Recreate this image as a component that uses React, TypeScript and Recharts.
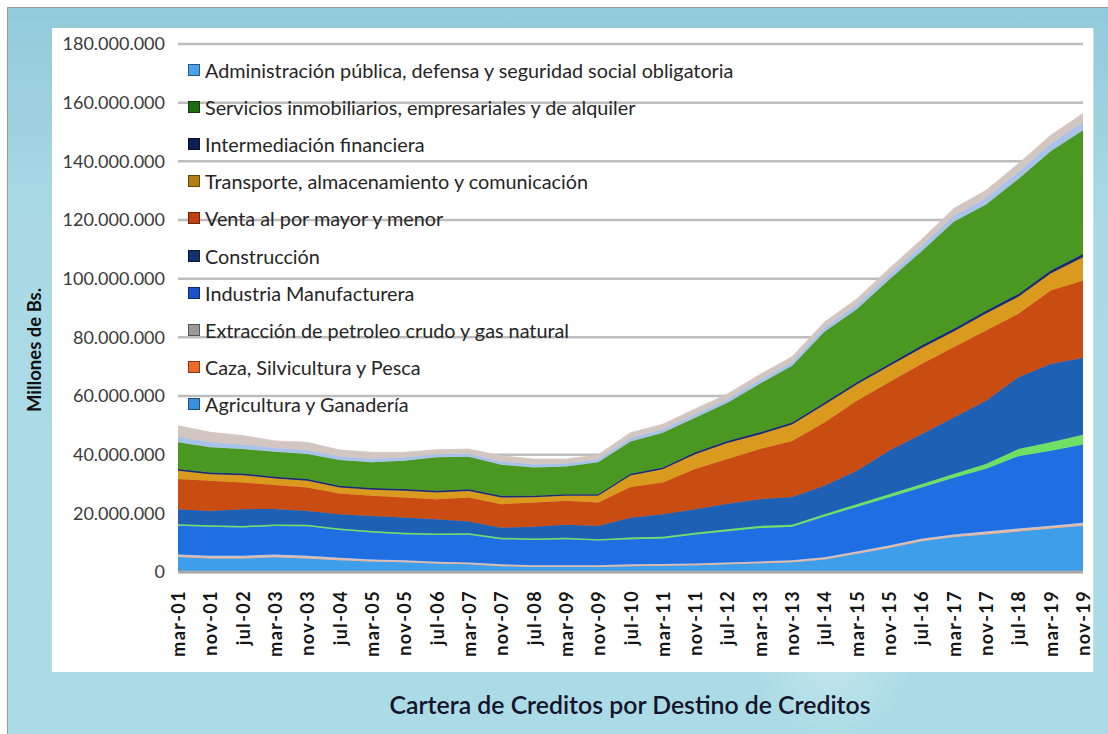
import React from "react";
import { AreaChart, Area, XAxis, YAxis, CartesianGrid, Legend } from "recharts";

const meses = [
  "mar-01", "nov-01", "jul-02", "mar-03", "nov-03", "jul-04", "mar-05", "nov-05", "jul-06", "mar-07",
  "nov-07", "jul-08", "mar-09", "nov-09", "jul-10", "mar-11", "nov-11", "jul-12", "mar-13", "nov-13",
  "jul-14", "mar-15", "nov-15", "jul-16", "mar-17", "nov-17", "jul-18", "mar-19", "nov-19",
];

// millones (el eje muestra el valor x 1.000.000)
const agricultura = [5.1, 4.6, 4.6, 5.0, 4.6, 4.0, 3.6, 3.3, 2.9, 2.6, 2.0, 1.7, 1.7, 1.7, 2.0, 2.1, 2.3, 2.6, 3.0, 3.3, 4.3, 6.2, 8.2, 10.5, 11.9, 12.8, 13.8, 14.8, 15.8];
const caza = [0.4, 0.4, 0.4, 0.4, 0.4, 0.4, 0.3, 0.3, 0.3, 0.3, 0.3, 0.3, 0.3, 0.3, 0.3, 0.3, 0.3, 0.3, 0.3, 0.3, 0.3, 0.4, 0.4, 0.4, 0.4, 0.5, 0.5, 0.5, 0.5];
const extraccion = [0.5, 0.5, 0.5, 0.6, 0.5, 0.5, 0.4, 0.4, 0.3, 0.3, 0.3, 0.3, 0.3, 0.3, 0.3, 0.3, 0.3, 0.3, 0.3, 0.4, 0.4, 0.4, 0.4, 0.4, 0.5, 0.5, 0.5, 0.5, 0.5];
const industria = [9.8, 9.9, 9.7, 9.7, 10.1, 9.4, 9.2, 8.9, 9.1, 9.5, 8.6, 8.6, 8.9, 8.4, 8.6, 8.7, 9.9, 10.7, 11.4, 11.4, 13.9, 15.2, 16.5, 17.5, 19.3, 21.4, 24.7, 25.5, 26.7];
const electricidad = [0.5, 0.5, 0.5, 0.5, 0.5, 0.5, 0.5, 0.5, 0.5, 0.5, 0.5, 0.5, 0.5, 0.5, 0.6, 0.6, 0.6, 0.7, 0.7, 0.7, 0.8, 0.9, 1.0, 1.1, 1.3, 1.6, 2.4, 2.9, 3.3];
const construccion = [5.1, 4.9, 5.7, 5.3, 4.7, 4.9, 5.1, 5.2, 4.9, 4.0, 3.4, 4.0, 4.4, 4.5, 6.7, 7.7, 8.0, 8.7, 9.1, 9.5, 9.7, 11.4, 14.8, 17.1, 19.3, 21.6, 24.5, 26.7, 26.2];
const venta = [10.3, 10.3, 9.1, 8.2, 8.0, 7.1, 6.9, 6.8, 6.8, 8.2, 8.0, 8.3, 8.2, 8.0, 10.5, 10.8, 13.7, 15.2, 17.1, 19.1, 21.6, 23.9, 23.4, 23.9, 23.9, 23.9, 21.6, 25.1, 26.4];
const transporte = [2.8, 2.2, 2.5, 2.2, 2.3, 2.0, 2.0, 2.3, 2.3, 2.2, 2.3, 1.8, 1.7, 2.3, 3.9, 4.5, 5.0, 5.5, 5.0, 5.6, 6.0, 5.5, 5.4, 5.4, 5.4, 5.8, 5.8, 5.8, 7.9];
const intermediacion = [0.6, 0.6, 0.6, 0.6, 0.6, 0.6, 0.6, 0.6, 0.6, 0.6, 0.6, 0.5, 0.5, 0.5, 0.6, 0.6, 0.7, 0.7, 0.7, 0.7, 0.8, 0.8, 0.8, 0.9, 0.9, 1.0, 1.0, 1.0, 1.1];
const servicios = [9.1, 8.6, 8.3, 8.5, 8.5, 8.8, 8.8, 9.6, 11.4, 11.1, 10.6, 9.6, 9.5, 10.9, 11.0, 11.9, 11.8, 13.0, 16.6, 19.3, 24.1, 24.9, 28.7, 32.1, 36.5, 36.2, 39.2, 40.6, 42.2];
const administracion = [2.0, 1.8, 1.6, 1.3, 1.4, 1.2, 1.2, 1.1, 1.0, 1.0, 1.1, 1.1, 1.0, 1.0, 1.2, 1.2, 1.2, 1.2, 1.3, 1.3, 1.4, 1.5, 1.7, 1.8, 2.0, 2.2, 2.4, 2.6, 2.7];
const otros = [3.7, 3.3, 3.0, 2.4, 2.6, 2.2, 2.2, 1.8, 1.6, 1.6, 1.9, 1.8, 1.5, 1.6, 1.8, 1.7, 1.8, 1.8, 1.8, 1.8, 1.9, 2.0, 2.1, 2.2, 2.5, 2.6, 2.8, 2.9, 3.0];

const yTicks = [0, 20, 40, 60, 80, 100, 120, 140, 160, 180];

// de abajo hacia arriba
const series = [
  { key: "agricultura", name: "Agricultura y Ganadería", fill: "#3f9ee9", icon: "#3a8fe0", values: agricultura },
  { key: "caza", name: "Caza, Silvicultura y Pesca", fill: "#efb08e", icon: "#ee6a2a", values: caza },
  { key: "extraccion", name: "Extracción de petroleo crudo y gas natural", fill: "#c6c3cc", icon: "#9a9a9a", values: extraccion },
  { key: "industria", name: "Industria Manufacturera", fill: "#1f6fe2", icon: "#1c52c8", values: industria },
  { key: "electricidad", name: "", fill: "#6ee063", icon: "", values: electricidad },
  { key: "construccion", name: "Construcción", fill: "#1d60b4", icon: "#12306a", values: construccion },
  { key: "venta", name: "Venta al por mayor y menor", fill: "#c94c13", icon: "#c0400e", values: venta },
  { key: "transporte", name: "Transporte, almacenamiento y comunicación", fill: "#d99a1e", icon: "#b47f12", values: transporte },
  { key: "intermediacion", name: "Intermediación financiera", fill: "#1b2a72", icon: "#0e1f55", values: intermediacion },
  { key: "servicios", name: "Servicios inmobiliarios, empresariales y de alquiler", fill: "#4a9822", icon: "#1f6a12", values: servicios },
  { key: "administracion", name: "Administración pública, defensa y seguridad social obligatoria", fill: "#a9c2ea", icon: "#4aa2ea", values: administracion },
  { key: "otros", name: "", fill: "#d3c6c0", icon: "", values: otros },
];

const data = meses.map((mes, i) => {
  const row: Record<string, string | number> = { mes };
  series.forEach((s) => (row[s.key] = s.values[i]));
  return row;
});

const legendItems = series.filter((s) => s.name).reverse();

const fmt = (v: number) => String(Math.round(v * 1000000)).replace(/\B(?=(\d{3})+(?!\d))/g, ".");

const MonthTick = ({ x, y, payload }: any) => (
  <g transform={`translate(${x},${y})`}>
    <text
      transform="rotate(-90)"
      x={-10}
      textAnchor="end"
      dominantBaseline="central"
      fontFamily="Lato"
      fontWeight={700}
      fontSize={18}
      letterSpacing={1.4}
      fill="#151515"
    >
      {payload.value}
    </text>
  </g>
);

const renderLegend = () => (
  <div style={{ fontFamily: "Lato", fontSize: 19.8, color: "#262626" }}>
    {legendItems.map((s) => (
      <div key={s.key} style={{ height: 37.2, display: "flex", alignItems: "center", whiteSpace: "nowrap" }}>
        <span
          style={{
            display: "inline-block",
            width: 10,
            height: 10,
            background: s.icon,
            border: "1px solid rgba(0,0,0,0.45)",
            marginRight: 5,
          }}
        />
        {s.name}
      </div>
    ))}
  </div>
);

export default function App() {
  return (
    <div style={{ position: "fixed", left: 0, top: 0, width: 1108, height: 734, background: "#fff", overflow: "hidden" }}>
      <div
        style={{
          position: "absolute",
          left: 7,
          top: 7,
          right: 0,
          bottom: 0,
          borderLeft: "1px solid #9a9a9a",
          borderTop: "1px solid #9a9a9a",
          background:
            "radial-gradient(circle at 20% 80%, rgba(255,255,255,0.35) 0, rgba(255,255,255,0) 60px), radial-gradient(circle at 75% 90%, rgba(255,255,255,0.3) 0, rgba(255,255,255,0) 80px), linear-gradient(180deg, #93cad9 0%, #a9dae6 30%, #aadbe6 100%)",
        }}
      />
      <div
        style={{
          position: "absolute",
          left: 52,
          top: 28,
          width: 1041,
          height: 644,
          background: "#fff",
          borderRight: "1px solid #cfdfe4",
        }}
      />
      <div
        style={{
          position: "absolute",
          left: 34,
          top: 350,
          transform: "translate(-50%,-50%) rotate(-90deg)",
          fontFamily: "Lato",
          fontWeight: 700,
          fontSize: 18.5,
          color: "#111",
          whiteSpace: "nowrap",
        }}
      >
        Millones de Bs.
      </div>
      <div
        style={{
          position: "absolute",
          left: 630,
          top: 704,
          transform: "translate(-50%,-50%)",
          fontFamily: "Lato",
          fontWeight: 600,
          fontSize: 24.8,
          color: "#14142a",
          whiteSpace: "nowrap",
        }}
      >
        Cartera de Creditos por Destino de Creditos
      </div>
      <div style={{ position: "absolute", left: 0, top: 0 }}>
        <AreaChart width={1108} height={734} data={data} margin={{ top: 44, right: 25, bottom: 72, left: 58 }}>
          <CartesianGrid horizontal vertical={false} stroke="#bdbdbd" strokeWidth={2.5} />
          <XAxis
            dataKey="mes"
            interval={0}
            height={90}
            tick={<MonthTick />}
            tickLine={false}
            axisLine={{ stroke: "#a8a8a8", strokeWidth: 3 }}
          />
          <YAxis
            width={120}
            domain={[0, 180]}
            ticks={yTicks}
            tickFormatter={fmt}
            tickLine={false}
            axisLine={false}
            tickMargin={7}
            tick={{ fontFamily: "Lato", fontSize: 18, fill: "#3a3a3a" }}
          />
          {series.map((s) => (
            <Area
              key={s.key}
              type="linear"
              dataKey={s.key}
              name={s.name}
              stackId="1"
              fill={s.fill}
              fillOpacity={1}
              stroke={s.fill}
              strokeWidth={0.8}
              isAnimationActive={false}
              legendType={s.name ? "square" : "none"}
            />
          ))}
          <Legend
            layout="vertical"
            align="center"
            verticalAlign="middle"
            content={renderLegend}
            wrapperStyle={{ left: 188, top: 51, width: 620, height: 380 }}
          />
        </AreaChart>
      </div>
    </div>
  );
}
